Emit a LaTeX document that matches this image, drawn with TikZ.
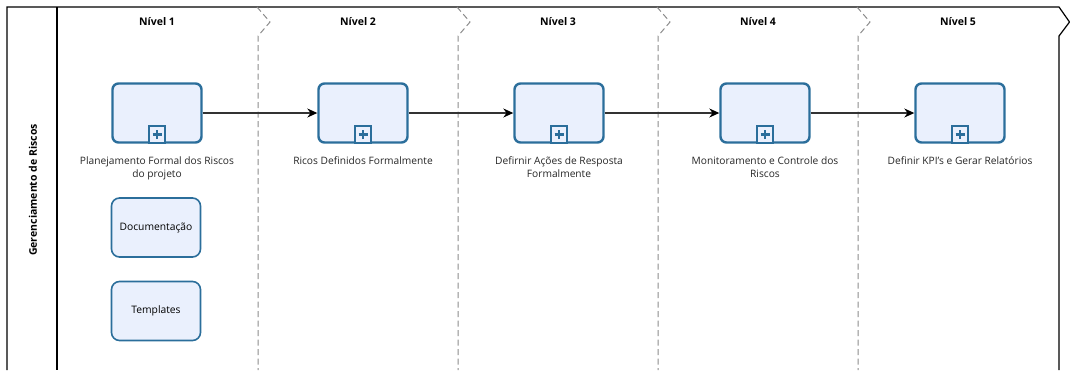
\documentclass[tikz,border=0pt]{standalone}
\usepackage{fontspec}
\setmainfont{Open Sans}
\usetikzlibrary{arrows.meta}

\definecolor{taskblue}{HTML}{2B6E9B}
\definecolor{taskfill}{HTML}{EAF0FD}
\definecolor{sepgray}{HTML}{8C8C8C}

\tikzset{
	task/.style={draw=taskblue, line width=2.4pt, fill=taskfill, rounded corners=6pt,
		minimum width=89pt, minimum height=59pt, inner sep=0pt},
	artefact/.style={draw=taskblue, line width=1.6pt, fill=taskfill, rounded corners=8pt,
		minimum width=89pt, minimum height=59pt, inner sep=0pt, font=\fontsize{10.3}{12}\selectfont},
	submark/.style={draw=taskblue, line width=1.3pt, fill=taskfill, minimum width=16pt,
		minimum height=17pt, inner sep=0pt, anchor=south,
		path picture={\draw[taskblue, line width=2.2pt]
			([xshift=-4.5pt]path picture bounding box.center) -- ([xshift=4.5pt]path picture bounding box.center)
			([yshift=-4.5pt]path picture bounding box.center) -- ([yshift=4.5pt]path picture bounding box.center);}},
	tasklabel/.style={align=center, anchor=north, text=black!85, font=\fontsize{10.2}{13}\selectfont},
	header/.style={font=\bfseries\fontsize{10.5}{12}\selectfont},
	flow/.style={draw=black!80, line width=1.1pt, -{Stealth[length=10pt, width=9pt, black]}},
	separator/.style={draw=sepgray, line width=1pt, dash pattern=on 6pt off 3.5pt}
}

\begin{document}
\begin{tikzpicture}[x=1pt, y=-1pt]
	\useasboundingbox (0,0) rectangle (1070,370);

	% pool frame and lane title
	\draw[line width=1.2pt] (7,370) -- (7,7) -- (1059,7) -- (1069.5,22) -- (1059,36) -- (1059,370);
	\draw[line width=1.2pt] (57,7) -- (57,370);
	\node[rotate=90, header] (lane) at (33,190) {Gerenciamento de Riscos};

	% phase separators
	\foreach \s in {258,458,658,858}
		\draw[separator] (\s-1,7) -- (\s+12,22) -- (\s,36) -- (\s,370);

	% headers, tasks and labels
	\foreach \i/\h/\x/\txt in {1/157/157/{Planejamento Formal dos Riscos\\do projeto},
			2/358/363/{Ricos Definidos Formalmente},
			3/558/559/{Defirnir Ações de Resposta\\Formalmente},
			4/758/765/{Monitoramento e Controle dos\\Riscos},
			5/958/960/{Definir KPI{\char"27}s e Gerar Relatórios}}{
		\node[header] (h\i) at (\h,22) {Nível \i};
		\node[task] (t\i) at (\x,113) {};
		\node[submark] (m\i) at (t\i.south) {};
		\node[tasklabel] (l\i) at (\x,153) {\txt};
	}

	% artefacts
	\node[artefact] (doc) at (156,227.5) {Documentação};
	\node[artefact] (tpl) at (156,311) {Templates};

	% sequence flows
	\foreach \a/\b in {1/2,2/3,3/4,4/5}
		\draw[flow] (t\a) -- (t\b);
\end{tikzpicture}
\end{document}
